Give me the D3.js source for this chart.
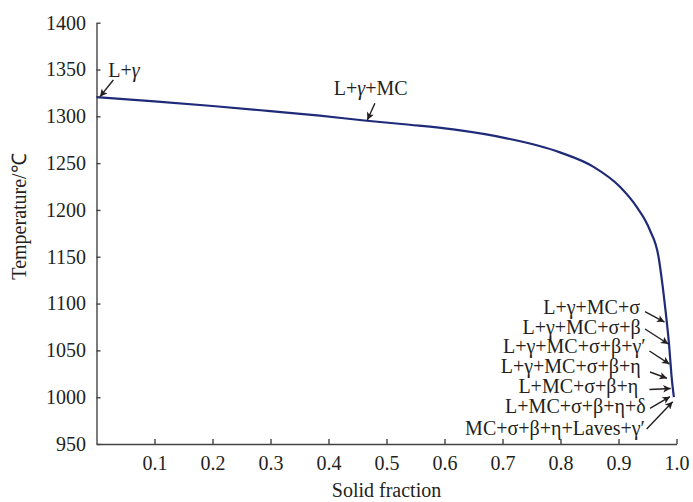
<!DOCTYPE html>
<html>
<head>
<meta charset="utf-8">
<script src="https://cdn.jsdelivr.net/npm/d3@7"></script>
</head>
<body style="margin:0">
<svg id="chart"></svg>
<script>
// solidification curve
var solidFraction = [0, 0.1, 0.2, 0.3, 0.385, 0.466, 0.54, 0.615, 0.707, 0.799,
    0.857, 0.902, 0.931, 0.954, 0.969, 0.975, 0.981, 0.987, 0.9917, 0.9955];
var temperature = [1320.5, 1316, 1311, 1305.5, 1300.7, 1295.3, 1291, 1286, 1276.5, 1261.5,
    1246, 1225, 1203.5, 1178.6, 1150, 1124, 1093, 1057.5, 1021, 1000];

var xTicks = [0.1, 0.2, 0.3, 0.4, 0.5, 0.6, 0.7, 0.8, 0.9, 1.0];
var yTicks = [950, 1000, 1050, 1100, 1150, 1200, 1250, 1300, 1350, 1400];

// phase annotations (data units): label, arrow tip, arrow tail, text anchor
var annoLabels = ["L+γ", "L+γ+MC", "L+γ+MC+σ", "L+γ+MC+σ+β", "L+γ+MC+σ+β+γ′",
    "L+γ+MC+σ+β+η", "L+MC+σ+β+η", "L+MC+σ+β+η+δ", "MC+σ+β+η+Laves+γ′"];
var annoTipX = [0.006, 0.467, 0.9793, 0.9859, 0.9879, 0.9836, 0.990, 0.9888, 0.9934];
var annoTipY = [1321, 1296.1, 1080.3, 1056.8, 1035.4, 1020.2, 1009.3, 1000.5, 995.2];
var annoTailX = [0.029, 0.480, 0.9457, 0.9457, 0.9534, 0.9543, 0.9534, 0.9543, 0.9486];
var annoTailY = [1338.8, 1313.9, 1091.3, 1072.8, 1049.3, 1026.9, 1008.2, 988.1, 966];
var annoTextX = [0.0203, 0.4728, 0.9371, 0.9383, 0.9469, 0.9383, 0.9341, 0.9469, 0.9457];
var annoTextY = [1342, 1322.8, 1088.9, 1067.2, 1046.9, 1025.5, 1004.2, 982.8, 959.6];
var annoAnchor = ["start", "middle", "end", "end", "end", "end", "end", "end", "end"];
var annoItalic = [true, true, false, false, false, false, false, false, false];

var width = 693,
    height = 502;

var serif = "'Liberation Serif', 'Times New Roman', Tinos, Times, serif";
var ink = "#231f20";

function serifText(sel) {
    sel.style("font-family", serif)
        .style("font-size", "20px")
        .attr("fill", ink);
}

var svg = d3.select("#chart")
    .attr("width", width)
    .attr("height", height)
    .style("font-family", serif);

var x = d3.scaleLinear().domain([0, 1]).range([96.5, 676.5]);
var y = d3.scaleLinear().domain([950, 1400]).range([444, 22.7]);

var axisColor = "#444";

var xAxis = svg.append("g")
    .attr("transform", "translate(0," + y(950) + ")")
    .call(d3.axisBottom(x).tickValues(xTicks).tickFormat(d3.format(".1f"))
        .tickSizeInner(-5).tickSizeOuter(0).tickPadding(12));

var yAxis = svg.append("g")
    .attr("transform", "translate(" + x(0) + ",0)")
    .call(d3.axisLeft(y).tickValues(yTicks).tickFormat(d3.format("d"))
        .tickSizeInner(-4).tickSizeOuter(0).tickPadding(10.5));

[xAxis, yAxis].forEach(function(g) {
    g.attr("font-family", serif).attr("font-size", 20);
    g.select(".domain").attr("stroke", axisColor).attr("stroke-width", 1.4);
    g.selectAll(".tick line").attr("stroke", axisColor).attr("stroke-width", 1.4);
    g.selectAll(".tick text").call(serifText);
});

svg.append("text")
    .attr("x", x(0.5))
    .attr("y", 497)
    .attr("text-anchor", "middle")
    .call(serifText)
    .text("Solid fraction");

svg.append("text")
    .attr("transform", "translate(26," + y(1193) + ") rotate(-90)")
    .attr("text-anchor", "middle")
    .call(serifText)
    .text("Temperature/℃");

var line = d3.line()
    .x(function(d) { return x(d[0]); })
    .y(function(d) { return y(d[1]); })
    .curve(d3.curveMonotoneX);

svg.append("path")
    .datum(d3.zip(solidFraction, temperature))
    .attr("fill", "none")
    .attr("stroke", "#1f2a78")
    .attr("stroke-width", 2.2)
    .attr("d", line);

svg.append("defs").append("marker")
    .attr("id", "head")
    .attr("viewBox", "0 0 10 10")
    .attr("refX", 10)
    .attr("refY", 5)
    .attr("markerUnits", "userSpaceOnUse")
    .attr("markerWidth", 10)
    .attr("markerHeight", 7.5)
    .attr("orient", "auto")
    .append("path")
    .attr("d", "M0,0 L10,5 L0,10 L2.5,5 Z")
    .attr("fill", ink);

var annos = annoLabels.map(function(l, i) {
    return {
        label: l, tx: annoTipX[i], ty: annoTipY[i], sx: annoTailX[i], sy: annoTailY[i],
        lx: annoTextX[i], ly: annoTextY[i], anchor: annoAnchor[i], italic: annoItalic[i]
    };
});

svg.append("g").selectAll("line")
    .data(annos)
    .enter()
    .append("line")
    .attr("x1", function(d) { return x(d.sx); })
    .attr("y1", function(d) { return y(d.sy); })
    .attr("x2", function(d) { return x(d.tx); })
    .attr("y2", function(d) { return y(d.ty); })
    .attr("stroke", ink)
    .attr("stroke-width", 1.4)
    .attr("marker-end", "url(#head)");

svg.append("g").selectAll("text")
    .data(annos)
    .enter()
    .append("text")
    .attr("x", function(d) { return x(d.lx); })
    .attr("y", function(d) { return y(d.ly); })
    .attr("text-anchor", function(d) { return d.anchor; })
    .call(serifText)
    .each(function(d) {
        var t = d3.select(this);
        if (!d.italic) { t.text(d.label); return; }
        // italic gamma in the upper labels
        d.label.split(/(γ)/).forEach(function(part) {
            if (!part) return;
            t.append("tspan")
                .style("font-style", part == "γ" ? "italic" : "normal")
                .text(part);
        });
    });
</script>
</body>
</html>
